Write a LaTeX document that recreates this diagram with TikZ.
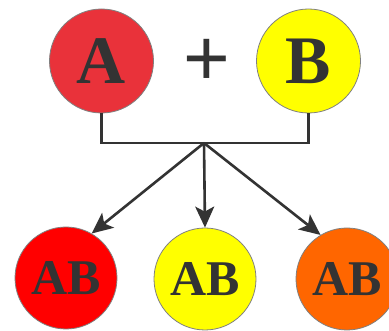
\documentclass[tikz,border=0pt]{standalone}
\usepackage{fontspec}
\setmainfont{Liberation Serif}
\newfontfamily\plusfont{Liberation Sans}
\usetikzlibrary{arrows.meta}
\definecolor{ink}{HTML}{333333}
\definecolor{rimgray}{HTML}{808080}
\definecolor{topred}{HTML}{E9323A}
\definecolor{ylw}{HTML}{FFFF00}
\definecolor{pured}{HTML}{FF0000}
\definecolor{orng}{HTML}{FF6600}
\tikzset{
  parent/.style={circle, draw=rimgray, line width=0.8pt, minimum size=104pt, inner sep=0pt,
    text=ink, font=\fontsize{68}{68}\selectfont\bfseries},
  child/.style={circle, draw=rimgray, line width=0.8pt, minimum size=102pt, inner sep=0pt,
    text=ink, font=\fontsize{50}{50}\selectfont\bfseries},
  conn/.style={draw=ink, line width=2.6pt},
  arr/.style={conn, -{Stealth[length=21pt, width=19pt, inset=5pt]}}
}
\begin{document}
\begin{tikzpicture}[x=1pt,y=-1pt]
\useasboundingbox (0,0) rectangle (389,331);
\fill[white] (0,0) rectangle (389,331);
\node[parent, fill=topred] (a) at (101.5,61) {A};
\node[parent, fill=ylw] (b) at (308.5,61) {B};
\node[inner sep=0pt, text=ink, font=\fontsize{80}{80}\selectfont\plusfont] (plus) at (206.5,62) {+};
\coordinate (j) at (204,143);
\draw[conn, line join=miter] (a.south) -- (a.south |- j) -- (b.south |- j) -- (b.south);
\node[child, fill=pured] (c1) at (66,278) {AB};
\node[child, fill=ylw] (c2) at (205,279) {AB};
\node[child, fill=orng] (c3) at (347,279) {AB};
\draw[arr] (j) -- (c1.60);
\draw[arr] (j) -- (c2.north);
\draw[arr] (j) -- (c3.121);
\end{tikzpicture}
\end{document}
